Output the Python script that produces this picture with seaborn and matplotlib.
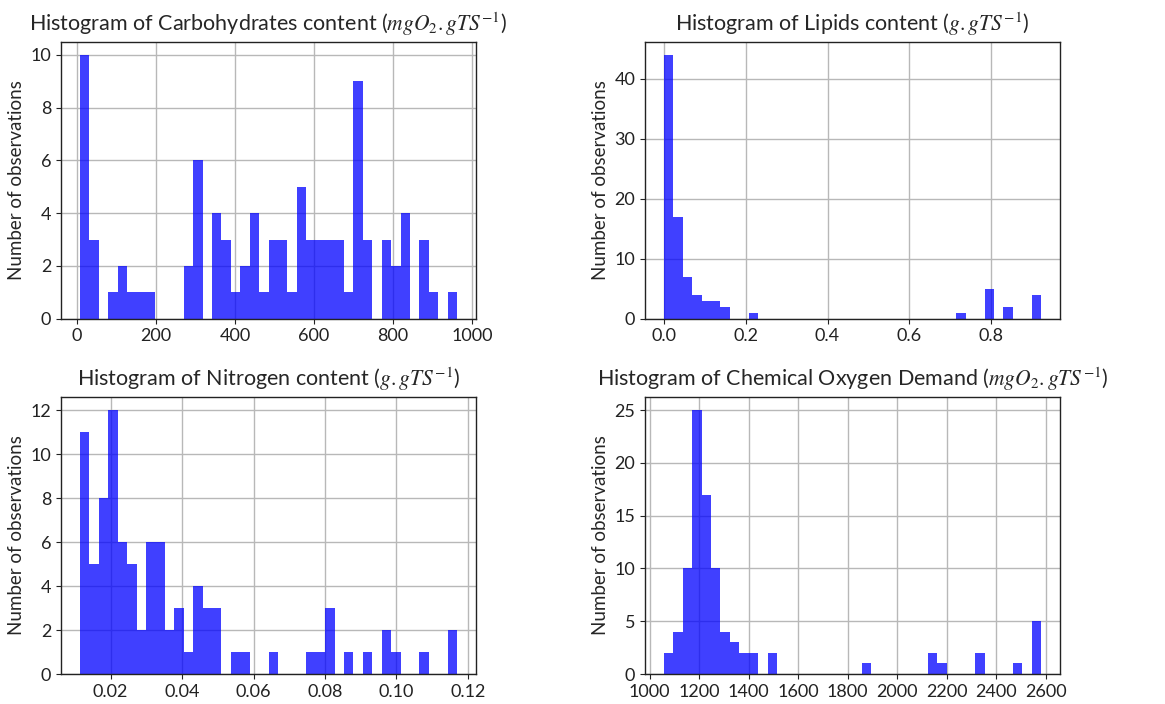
import numpy as np
import pandas as pd
import matplotlib
matplotlib.use("Agg")
import matplotlib.pyplot as plt
from matplotlib.ticker import MultipleLocator
import seaborn as sns

# ---- data: counts per bin (40 equal-width bins) and value range of each histogram ----
carb_range = (7.0, 963.0)
carb_counts = [10, 3, 0, 1, 2, 1, 1, 1, 0, 0,
               0, 2, 6, 0, 4, 3, 1, 2, 4, 1,
               3, 3, 1, 5, 3, 3, 3, 3, 1, 9,
               3, 0, 3, 2, 4, 0, 3, 1, 0, 1]

lip_range = (0.0, 0.922)
lip_counts = [44, 17, 7, 4, 3, 3, 2, 0, 0, 1,
              0, 0, 0, 0, 0, 0, 0, 0, 0, 0,
              0, 0, 0, 0, 0, 0, 0, 0, 0, 0,
              0, 1, 0, 0, 5, 0, 2, 0, 0, 4]

nit_range = (0.0114, 0.117)
nit_counts = [11, 5, 8, 12, 6, 5, 2, 6, 6, 2,
              3, 1, 4, 3, 3, 0, 1, 1, 0, 0,
              1, 0, 0, 0, 1, 1, 3, 0, 1, 0,
              1, 0, 2, 1, 0, 0, 1, 0, 0, 2]

cod_range = (1057.0, 2582.0)
cod_counts = [2, 4, 10, 25, 17, 10, 4, 3, 2, 2,
              0, 2, 0, 0, 0, 0, 0, 0, 0, 0,
              0, 1, 0, 0, 0, 0, 0, 0, 2, 1,
              0, 0, 0, 2, 0, 0, 0, 1, 0, 5]

titles = [
    r"Histogram of Carbohydrates content ($mgO_2.gTS^{-1}$)",
    r"Histogram of Lipids content ($g.gTS^{-1}$)",
    r"Histogram of Nitrogen content ($g.gTS^{-1}$)",
    r"Histogram of Chemical Oxygen Demand ($mgO_2.gTS^{-1}$)",
]
ylabel = "Number of observations"
x_steps = [200, 0.2, 0.02, 200]

# ---- style ----
sns.set_style("ticks", {"axes.grid": True, "grid.color": "#b8b8b8",
                        "axes.edgecolor": "#222222"})
plt.rcParams["font.family"] = ["Lato", "DejaVu Sans"]
plt.rcParams["mathtext.fontset"] = "stix"
plt.rcParams["xtick.labelsize"] = 13
plt.rcParams["ytick.labelsize"] = 13
plt.rcParams["xtick.color"] = "#222222"
plt.rcParams["ytick.color"] = "#222222"

fig, axes = plt.subplots(2, 2, figsize=(11.65, 7.04), dpi=100)
fig.subplots_adjust(left=0.0524, right=0.9099, bottom=0.0426, top=0.9408,
                    wspace=0.407, hspace=0.282)

datasets = [(carb_range, carb_counts), (lip_range, lip_counts),
            (nit_range, nit_counts), (cod_range, cod_counts)]

for ax, (rng, counts), title, step in zip(axes.flat, datasets, titles, x_steps):
    edges = np.linspace(rng[0], rng[1], len(counts) + 1)
    centers = (edges[:-1] + edges[1:]) / 2
    values = np.repeat(centers, counts)
    df = pd.DataFrame({"value": values})
    sns.histplot(data=df, x="value", bins=list(edges), color="blue",
                 alpha=0.75, linewidth=0, ax=ax, zorder=2)
    ax.set_title(title, fontsize=15.5, pad=8)
    ax.set_ylabel(ylabel, fontsize=13.5)
    ax.set_xlabel("")
    ax.grid(True, linewidth=1.0, color="#b8b8b8", zorder=0)
    ax.set_axisbelow(True)
    ax.xaxis.set_major_locator(MultipleLocator(step))
    ax.set_xlim(rng[0] - 0.05 * (rng[1] - rng[0]), rng[1] + 0.05 * (rng[1] - rng[0]))
    ax.set_ylim(0, max(counts) * 1.05)
    for s in ax.spines.values():
        s.set_linewidth(1.0)
        s.set_visible(True)

fig.savefig("out.png", dpi=100)
